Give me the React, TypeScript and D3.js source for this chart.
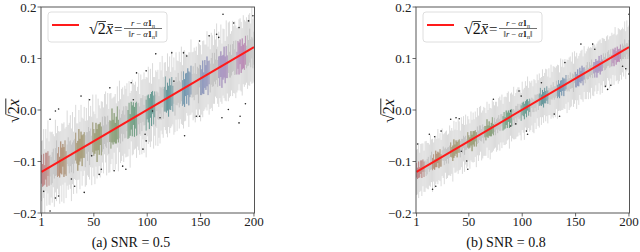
import React from 'react'
import * as d3 from 'd3'

// axis ticks
const xTicks = [1, 50, 100, 150, 200]
const yTicks = [-0.2, -0.1, 0.0, 0.1, 0.2]

// red reference line (index, value)
const lineIdx = [1, 200]
const lineVal = [-0.12, 0.122]

// indices where the boxes show their group colour
const blobCentres = [4, 20, 37, 53, 69, 86, 103, 120, 137, 154, 171, 188]
const hueStops = ['#c07a80', '#a9825c', '#958a55', '#808f58', '#66976a', '#5d988a', '#5b9298', '#6a8cb0', '#8c85be', '#ad7bbc', '#bf76a4']

// ---- panel (a) SNR = 0.5, values in 1/1000 ----
const medA = [
  -115, -127, -116, -126, -109, -116, -104, -118, -108, -118,
  -112, -100, -115, -101, -93, -107, -100, -111, -92, -99,
  -88, -101, -92, -104, -86, -81, -92, -84, -94, -84,
  -91, -80, -71, -84, -89, -72, -78, -68, -79, -70,
  -68, -80, -64, -71, -57, -74, -63, -69, -53, -63,
  -65, -52, -69, -53, -57, -46, -60, -47, -53, -39,
  -42, -51, -37, -54, -41, -48, -30, -43, -34, -45,
  -39, -25, -41, -27, -40, -27, -31, -20, -32, -23,
  -17, -28, -20, -29, -11, -21, -7, -23, -11, -17,
  -18, -7, -20, -1, -9, 3, -10, -1, -10, 5,
  3, -7, 8, 2, 15, 0, 11, -1, 17, 8,
  4, 19, 12, 25, 12, 21, 31, 17, 26, 17,
  31, 24, 36, 22, 33, 21, 37, 32, 43, 31,
  33, 46, 33, 43, 33, 49, 42, 55, 42, 49,
  58, 47, 55, 45, 60, 50, 57, 47, 66, 58,
  54, 64, 52, 70, 63, 75, 62, 73, 62, 75,
  78, 68, 83, 74, 88, 71, 83, 76, 89, 74,
  83, 93, 78, 93, 84, 100, 88, 95, 87, 101,
  105, 93, 102, 91, 107, 100, 113, 98, 109, 104,
  104, 116, 103, 115, 111, 125, 110, 121, 110, 120,
]
const boxA = [
  28, 22, 31, 19, 26, 33, 24, 29, 21, 27,
  30, 25, 18, 27, 34, 23, 28, 20, 31, 26,
  22, 29, 33, 24, 19, 28, 31, 25, 27, 21,
  32, 24, 27, 20, 29, 35, 22, 26, 30, 23,
  25, 31, 21, 28, 24, 33, 27, 19, 29, 26,
  20, 27, 32, 25, 30, 22, 28, 34, 23, 27,
  29, 23, 26, 31, 21, 27, 33, 24, 28, 20,
  26, 32, 22, 28, 25, 19, 30, 27, 23, 31,
  24, 28, 34, 21, 27, 30, 22, 29, 25, 33,
  31, 21, 27, 24, 32, 26, 20, 28, 30, 23,
  27, 30, 23, 33, 22, 28, 25, 31, 19, 26,
  23, 26, 31, 20, 29, 24, 34, 22, 27, 30,
  30, 24, 28, 25, 21, 32, 27, 23, 29, 26,
  21, 29, 25, 32, 27, 22, 30, 26, 33, 24,
  28, 23, 30, 26, 31, 20, 27, 34, 22, 29,
  25, 32, 21, 27, 24, 29, 33, 23, 28, 26,
  33, 22, 28, 24, 30, 26, 21, 29, 25, 31,
  24, 30, 26, 31, 22, 28, 25, 32, 20, 27,
  29, 25, 33, 22, 27, 31, 24, 26, 30, 23,
  26, 28, 22, 30, 25, 33, 27, 21, 29, 32,
]
const wLoA = [
  62, 75, 55, 81, 48, 70, 58, 66, 77, 52,
  68, 50, 73, 59, 84, 46, 64, 71, 55, 79,
  57, 80, 49, 67, 61, 74, 53, 69, 83, 60,
  72, 54, 65, 78, 47, 63, 76, 51, 68, 58,
  50, 69, 82, 56, 73, 61, 48, 77, 59, 66,
  79, 58, 64, 71, 52, 85, 62, 55, 70, 47,
  60, 76, 51, 68, 80, 57, 65, 74, 49, 71,
  66, 48, 78, 55, 63, 72, 58, 81, 53, 69,
  74, 62, 56, 83, 50, 67, 79, 54, 64, 76,
  53, 71, 67, 49, 77, 60, 73, 58, 82, 56,
  69, 55, 80, 63, 47, 75, 61, 68, 52, 78,
  58, 84, 52, 72, 66, 54, 70, 63, 79, 50,
  76, 59, 68, 50, 81, 64, 56, 73, 61, 67,
  51, 73, 62, 79, 55, 70, 48, 66, 75, 59,
  67, 52, 75, 61, 84, 49, 72, 57, 65, 80,
  63, 78, 54, 69, 58, 76, 51, 82, 60, 71,
  80, 56, 71, 48, 65, 59, 77, 53, 73, 62,
  55, 70, 60, 76, 52, 83, 64, 68, 49, 74,
  72, 61, 79, 57, 69, 50, 75, 62, 81, 54,
  59, 67, 50, 74, 63, 78, 55, 70, 58, 65,
]
const wHiA = [
  55, 68, 79, 50, 72, 61, 84, 57, 66, 75,
  70, 53, 64, 82, 48, 76, 59, 69, 51, 73,
  61, 77, 56, 71, 85, 52, 67, 74, 58, 80,
  49, 66, 81, 58, 63, 72, 55, 78, 64, 53,
  74, 59, 68, 51, 79, 62, 71, 56, 83, 60,
  57, 82, 53, 75, 66, 49, 77, 63, 58, 70,
  78, 62, 70, 56, 73, 81, 52, 67, 60, 76,
  52, 71, 58, 84, 61, 68, 75, 50, 79, 64,
  69, 55, 76, 62, 48, 80, 59, 72, 66, 54,
  63, 79, 51, 70, 67, 57, 83, 61, 74, 58,
  81, 60, 72, 49, 76, 64, 53, 78, 57, 70,
  56, 74, 65, 80, 52, 71, 62, 59, 84, 67,
  73, 50, 79, 61, 69, 56, 75, 64, 52, 82,
  60, 77, 54, 72, 83, 59, 66, 51, 70, 63,
  79, 65, 58, 76, 55, 73, 50, 84, 62, 68,
  54, 70, 83, 57, 64, 78, 61, 72, 56, 75,
  67, 58, 74, 63, 80, 52, 69, 60, 77, 55,
  75, 64, 56, 81, 59, 70, 84, 53, 66, 72,
  58, 79, 62, 68, 54, 76, 65, 73, 50, 80,
  71, 56, 77, 60, 74, 63, 58, 82, 67, 61,
]
// outliers [index, value]
const outA = [
  [3, -0.158], [9, -0.196], [9, -0.018], [14, -0.171], [17, -0.167], [14, -0.002], [17, 0.002],
  [29, -0.134], [32, -0.148], [38, 0.027], [41, -0.16], [46, 0.02], [48, -0.089], [55, -0.125],
  [57, -0.115], [65, 0.043], [69, -0.118], [77, -0.109], [80, -0.115], [85, 0.053], [87, 0.02],
  [90, 0.072], [96, -0.076], [98, -0.047], [99, -0.06], [99, 0.076], [105, -0.002], [108, 0.109],
  [112, -0.015], [123, 0.111], [125, 0.056], [134, 0.111], [135, -0.05], [137, 0.105],
  [146, -0.012], [149, -0.012], [149, 0.134], [158, 0.144], [165, 0.147], [167, 0.141],
  [170, -0.015], [171, 0.186], [176, 0.001], [181, 0.169], [186, 0.16], [186, -0.025],
  [187, -0.012], [192, 0.012], [195, 0.173], [199, 0.183],
]

// ---- panel (b) SNR = 0.8, values in 1/1000 ----
const medB = [
  -117, -123, -116, -121, -111, -115, -108, -115, -109, -114,
  -110, -103, -111, -102, -98, -105, -100, -106, -95, -98,
  -92, -98, -93, -98, -88, -85, -91, -86, -90, -84,
  -88, -81, -77, -82, -84, -75, -78, -72, -77, -71,
  -70, -76, -67, -70, -62, -70, -64, -67, -58, -62,
  -63, -55, -64, -54, -56, -50, -57, -49, -52, -44,
  -45, -49, -41, -49, -42, -45, -35, -42, -36, -41,
  -38, -30, -38, -29, -36, -28, -30, -24, -29, -24,
  -20, -26, -21, -25, -15, -20, -12, -20, -12, -15,
  -15, -9, -15, -4, -8, -1, -8, -2, -6, 2,
  2, -3, 5, 3, 10, 3, 9, 3, 14, 9,
  8, 17, 13, 21, 15, 20, 26, 19, 25, 20,
  28, 25, 32, 25, 32, 26, 35, 32, 39, 33,
  35, 42, 36, 42, 37, 46, 43, 50, 44, 49,
  54, 48, 53, 49, 57, 52, 57, 52, 63, 59,
  57, 63, 57, 68, 64, 71, 65, 71, 66, 74,
  76, 71, 79, 75, 83, 75, 82, 78, 86, 79,
  84, 90, 82, 91, 87, 96, 90, 94, 91, 99,
  101, 95, 101, 96, 105, 101, 109, 101, 108, 106,
  106, 113, 107, 114, 112, 120, 113, 119, 114, 120,
]
const boxB = [
  14, 11, 16, 10, 13, 17, 12, 15, 11, 14,
  15, 12, 9, 14, 17, 12, 14, 10, 16, 13,
  11, 15, 17, 12, 10, 14, 16, 13, 14, 11,
  16, 12, 14, 10, 15, 18, 11, 13, 15, 12,
  13, 16, 11, 14, 12, 17, 14, 10, 15, 13,
  10, 14, 16, 13, 15, 11, 14, 17, 12, 14,
  15, 12, 13, 16, 11, 14, 17, 12, 14, 10,
  13, 16, 11, 14, 13, 10, 15, 14, 12, 16,
  12, 14, 17, 11, 14, 15, 11, 15, 13, 17,
  16, 11, 14, 12, 16, 13, 10, 14, 15, 12,
  14, 15, 12, 17, 11, 14, 13, 16, 10, 13,
  12, 13, 16, 10, 15, 12, 17, 11, 14, 15,
  15, 12, 14, 13, 11, 16, 14, 12, 15, 13,
  11, 15, 13, 16, 14, 11, 15, 13, 17, 12,
  14, 12, 15, 13, 16, 10, 14, 17, 11, 15,
  13, 16, 11, 14, 12, 15, 17, 12, 14, 13,
  17, 11, 14, 12, 15, 13, 11, 15, 13, 16,
  12, 15, 13, 16, 11, 14, 13, 16, 10, 14,
  15, 13, 17, 11, 14, 16, 12, 13, 15, 12,
  13, 14, 11, 15, 13, 17, 14, 11, 15, 16,
]
const wLoB = [
  48, 41, 55, 38, 46, 52, 40, 44, 50, 37,
  43, 51, 36, 47, 42, 54, 39, 45, 49, 41,
  52, 38, 45, 50, 40, 47, 53, 36, 44, 48,
  39, 46, 51, 42, 55, 37, 44, 49, 41, 53,
  47, 40, 44, 54, 38, 50, 42, 46, 52, 36,
  51, 43, 37, 48, 45, 41, 54, 39, 47, 44,
  36, 49, 53, 40, 47, 44, 38, 51, 42, 55,
  45, 52, 41, 46, 37, 53, 48, 43, 50, 39,
  54, 37, 47, 43, 51, 39, 45, 55, 38, 46,
  40, 48, 42, 52, 44, 50, 36, 47, 53, 41,
  46, 55, 39, 45, 49, 38, 51, 42, 44, 52,
  53, 42, 50, 37, 46, 54, 40, 48, 39, 45,
  38, 47, 44, 51, 42, 36, 52, 45, 55, 43,
  49, 40, 53, 44, 38, 48, 43, 50, 41, 47,
  42, 54, 38, 49, 52, 45, 37, 46, 51, 40,
  55, 44, 47, 39, 43, 51, 49, 36, 45, 53,
  41, 50, 45, 53, 40, 47, 55, 42, 38, 48,
  47, 38, 52, 43, 54, 40, 46, 51, 44, 37,
  44, 53, 40, 48, 37, 52, 42, 45, 50, 55,
  50, 45, 48, 41, 47, 39, 53, 44, 36, 49,
]
const wHiB = [
  40, 47, 52, 38, 45, 50, 43, 36, 48, 54,
  46, 39, 44, 53, 41, 49, 37, 51, 45, 42,
  55, 43, 48, 40, 52, 38, 46, 44, 50, 36,
  42, 51, 37, 47, 44, 54, 40, 49, 38, 52,
  48, 36, 53, 43, 50, 41, 55, 39, 46, 44,
  37, 52, 45, 49, 38, 47, 43, 53, 41, 50,
  53, 44, 40, 55, 46, 39, 51, 42, 48, 45,
  41, 49, 54, 38, 52, 44, 37, 47, 55, 43,
  50, 38, 46, 51, 40, 53, 48, 36, 44, 49,
  45, 54, 42, 37, 48, 45, 52, 41, 39, 53,
  38, 46, 51, 44, 55, 40, 47, 50, 43, 37,
  52, 41, 39, 48, 43, 51, 36, 45, 54, 46,
  44, 55, 47, 40, 49, 37, 53, 42, 46, 51,
  47, 43, 52, 45, 36, 54, 41, 48, 39, 50,
  39, 50, 44, 53, 47, 42, 55, 38, 51, 45,
  54, 37, 48, 42, 51, 46, 39, 53, 44, 40,
  43, 52, 41, 47, 38, 55, 45, 49, 37, 50,
  49, 45, 55, 39, 53, 43, 48, 40, 52, 46,
  36, 48, 43, 54, 41, 47, 52, 44, 39, 53,
  51, 42, 50, 46, 45, 52, 40, 55, 47, 44,
]
const outB = [
  [2, -0.066], [13, -0.047], [16, -0.154], [18, -0.052], [19, -0.148], [24, -0.041],
  [33, -0.018], [38, -0.015], [41, -0.017], [43, -0.08], [48, -0.099], [49, -0.115],
  [73, 0.021], [89, -0.002], [89, -0.031], [94, -0.027], [97, 0.037], [99, 0.027],
  [104, -0.041], [105, -0.047], [118, 0.053], [130, -0.008], [135, -0.012], [140, 0.092],
  [155, 0.128], [166, 0.128], [168, 0.118], [178, 0.046], [180, 0.04], [183, 0.048],
  [194, 0.085], [197, 0.08], [200, 0.186], [200, 0.07],
]

const hue = d3.scaleLinear<string>()
  .domain(hueStops.map((_, k) => 1 + (k * 199) / (hueStops.length - 1)))
  .range(hueStops)
  .interpolate(d3.interpolateHcl)

type PanelProps = {
  x0: number
  id: string
  caption: string
  med: number[]
  box: number[]
  wLo: number[]
  wHi: number[]
  out: number[][]
}

const Panel = ({ x0, id, caption, med, box, wLo, wHi, out }: PanelProps) => {
  const top = 7
  const bottom = 213
  const x = d3.scaleLinear().domain([0.5, 200.5]).range([x0, x0 + 213.5])
  const y = d3.scaleLinear().domain([-0.2, 0.2]).range([bottom, top])
  const bw = (x(2) - x(1)) * 0.9
  const line = d3.line<number>().x((_, i) => x(lineIdx[i])).y(v => y(v))

  const boxes = med.map((m, i) => {
    const idx = i + 1
    const c = m / 1000
    const dist = d3.min(blobCentres, b => Math.abs(idx - b)) ?? 99
    return {
      idx,
      q1: c - box[i] / 1000,
      q3: c + box[i] / 1000,
      lo: c - wLo[i] / 1000,
      hi: c + wHi[i] / 1000,
      tint: dist <= 4 ? (dist <= 2 ? 0.9 : 0.65) : 0,
    }
  })

  return (
    <g>
      <defs>
        <clipPath id={id}>
          <rect x={x0} y={top} width={213.5} height={bottom - top} />
        </clipPath>
      </defs>
      <g clipPath={`url(#${id})`}>
        {boxes.map(b => (
          <line key={'w' + b.idx} x1={x(b.idx)} x2={x(b.idx)} y1={y(b.lo)} y2={y(b.hi)}
            stroke="#d0d0d0" strokeWidth={0.8} />
        ))}
        {boxes.map(b => (
          <rect key={'b' + b.idx} x={x(b.idx) - bw / 2} width={bw} y={y(b.q3)} height={y(b.q1) - y(b.q3)}
            fill="#c2c2c2" />
        ))}
        {boxes.filter(b => b.tint > 0).map(b => (
          <rect key={'c' + b.idx} x={x(b.idx) - bw / 2} width={bw} y={y(b.q3)} height={y(b.q1) - y(b.q3)}
            fill={hue(b.idx)} fillOpacity={b.tint} />
        ))}
        {out.map((p, i) => (
          <circle key={'o' + i} cx={x(p[0])} cy={y(p[1])} r={0.8} fill="#222" />
        ))}
        <path d={line(lineVal) ?? ''} stroke="#ff1a1a" strokeWidth={2} fill="none" />
      </g>
      <rect x={x0} y={top} width={213.5} height={bottom - top} fill="none" stroke="#444" strokeWidth={0.9} />

      {yTicks.map(t => (
        <g key={'y' + t}>
          <line x1={x0 - 3.5} x2={x0} y1={y(t)} y2={y(t)} stroke="#444" strokeWidth={0.8} />
          <text x={x0 - 4.5} y={y(t) + 4.5} textAnchor="end" fontSize={13} fill="#222">
            {t < 0 ? '\u2212' + Math.abs(t).toFixed(1) : t.toFixed(1)}
          </text>
        </g>
      ))}
      {xTicks.map(t => (
        <g key={'x' + t}>
          <line x1={x(t)} x2={x(t)} y1={bottom} y2={bottom + 3.5} stroke="#444" strokeWidth={0.8} />
          <text x={x(t)} y={226} textAnchor="middle" fontSize={13} fill="#222">{t}</text>
        </g>
      ))}

      {/* y label: sqrt(2) x */}
      <g transform={`translate(${x0 - 27},111) rotate(-90)`} fill="#111">
        <text x={-12} y={5} fontSize={16}>
          {'\u221A'}<tspan>2</tspan><tspan fontStyle="italic">x</tspan>
        </text>
        <line x1={-3.5} x2={12.5} y1={-8.2} y2={-8.2} stroke="#111" strokeWidth={0.9} />
      </g>

      {/* legend */}
      <g fill="#111">
        <rect x={x0 + 7} y={12} width={119} height={30} rx={3} fill="#fff" fillOpacity={0.85} stroke="#d6d6d6" strokeWidth={0.8} />
        <line x1={x0 + 11} x2={x0 + 38} y1={25} y2={25} stroke="#ff1a1a" strokeWidth={2} />
        <text x={x0 + 48} y={34} fontSize={16}>{'\u221A'}2</text>
        <line x1={x0 + 56.5} x2={x0 + 65} y1={21.5} y2={21.5} stroke="#111" strokeWidth={0.8} />
        <text x={x0 + 65} y={34} fontSize={16} fontStyle="italic">x</text>
        <line x1={x0 + 66.5} x2={x0 + 72} y1={24.5} y2={24.5} stroke="#111" strokeWidth={0.8} />
        <text x={x0 + 73} y={34} fontSize={15}>=</text>
        <line x1={x0 + 83} x2={x0 + 121} y1={28.5} y2={28.5} stroke="#111" strokeWidth={0.6} />
        <text x={x0 + 102} y={26} fontSize={8.5} textAnchor="middle">
          <tspan fontStyle="italic">r</tspan>{' \u2212 '}<tspan fontStyle="italic">α</tspan>
          <tspan fontWeight="bold">1</tspan><tspan fontSize={6} fontStyle="italic" dy={1.5}>n</tspan>
        </text>
        <text x={x0 + 102} y={37} fontSize={8.5} textAnchor="middle">
          {'\u2016'}<tspan fontStyle="italic">r</tspan>{' \u2212 '}<tspan fontStyle="italic">α</tspan>
          <tspan fontWeight="bold">1</tspan><tspan fontSize={6} fontStyle="italic" dy={1.5}>n</tspan>
          <tspan dy={-1.5}>{'\u2016'}</tspan>
        </text>
      </g>

      <text x={x0 + 90} y={247} textAnchor="middle" fontSize={14} fill="#111">{caption}</text>
    </g>
  )
}

export default function App() {
  return (
    <svg width={640} height={252}
      style={{ position: 'absolute', left: 0, top: 0, background: '#fff', fontFamily: "'Liberation Serif', serif" }}>
      <Panel x0={41} id="clipA" caption="(a) SNR = 0.5" med={medA} box={boxA} wLo={wLoA} wHi={wHiA} out={outA} />
      <Panel x0={416} id="clipB" caption="(b) SNR = 0.8" med={medB} box={boxB} wLo={wLoB} wHi={wHiB} out={outB} />
    </svg>
  )
}
